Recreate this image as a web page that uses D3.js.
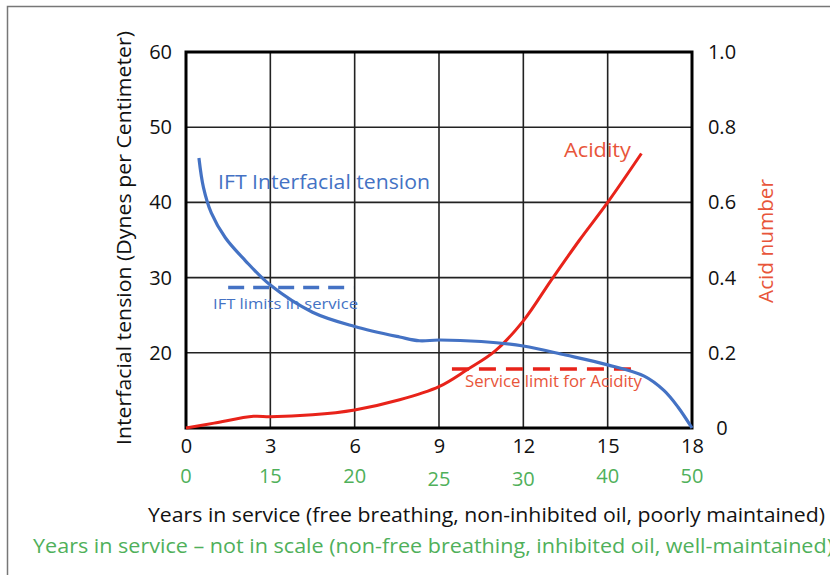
<!DOCTYPE html>
<html>
<head>
<meta charset="utf-8">
<script src="https://cdn.jsdelivr.net/npm/d3@7"></script>
<style>
  body { margin: 0; background: #fff; }
  svg { display: block; font-family: "Open Sans", "Noto Sans", sans-serif; }
</style>
</head>
<body>
<svg id="chart" width="830" height="575"></svg>
<script>
// data

var xTicks = [0, 3, 6, 9, 12, 15, 18];
var altYearLabels = ["0", "15", "20", "25", "30", "40", "50"];
var leftTicks = [20, 30, 40, 50, 60];
var rightTicks = [0, 0.2, 0.4, 0.6, 0.8, 1.0];
var rightTickLabels = ["0", "0.2", "0.4", "0.6", "0.8", "1.0"];

var iftYears  = [0.46, 0.62, 0.9, 1.4, 2.1, 3, 4.5, 6, 7.6, 8.3, 9, 10.5, 12, 13.5, 15, 16.3, 17.0, 17.5, 18];
var iftValues = [45.9, 42.0, 38.6, 35.3, 32.3, 29.0, 25.4, 23.5, 22.1, 21.6, 21.7, 21.5, 20.9, 19.7, 18.4, 16.9, 15.0, 12.8, 10];

var acidYears  = [0, 1, 2.4, 3, 4.5, 6, 7.6, 9, 10, 11, 12, 13, 14, 15, 16.2];
var acidValues = [0, 0.013, 0.031, 0.03, 0.035, 0.048, 0.075, 0.11, 0.155, 0.205, 0.285, 0.394, 0.5, 0.6, 0.73];

var iftLimit = 28.7, iftLimitYears = [1.5, 5.95];
var acidLimit = 0.157, acidLimitYears = [9.46, 16.08];

// colours

var blue = "#4472c4", red = "#e8231a", redText = "#e8553a", green = "#4fb05a";

var svg = d3.select("#chart");

// frame round the picture (only top and left show)

svg.append("rect")
  .attr("x", 7.5).attr("y", 6.5)
  .attr("width", 900).attr("height", 700)
  .attr("fill", "none").attr("stroke", "#777").attr("stroke-width", 1.5);

// scales

var x = d3.scaleLinear().domain([0, 18]).range([186, 692]);
var yLeft = d3.scaleLinear().domain([10, 60]).range([428, 52]);
var yRight = d3.scaleLinear().domain([0, 1]).range([428, 52]);

// grid

var grid = svg.append("g");
grid.selectAll(".vg").data(xTicks.slice(1, -1)).enter().append("line")
  .attr("x1", d => x(d)).attr("x2", d => x(d))
  .attr("y1", yLeft(60)).attr("y2", yLeft(10))
  .attr("stroke", "#222").attr("stroke-width", 1.6);
grid.selectAll(".hg").data(rightTicks.slice(1, -1)).enter().append("line")
  .attr("x1", x(0)).attr("x2", x(18))
  .attr("y1", d => yRight(d)).attr("y2", d => yRight(d))
  .attr("stroke", "#222").attr("stroke-width", 1.6);

// frame of the plot

svg.append("rect")
  .attr("x", x(0)).attr("y", yLeft(60))
  .attr("width", x(18) - x(0)).attr("height", yLeft(10) - yLeft(60))
  .attr("fill", "none").attr("stroke", "#000").attr("stroke-width", 3);

// dashed service limits

svg.append("line")
  .attr("x1", x(iftLimitYears[0])).attr("x2", x(iftLimitYears[1]))
  .attr("y1", yLeft(iftLimit)).attr("y2", yLeft(iftLimit))
  .attr("stroke", blue).attr("stroke-width", 3.5).attr("stroke-dasharray", "16,9");

svg.append("line")
  .attr("x1", x(acidLimitYears[0])).attr("x2", x(acidLimitYears[1]))
  .attr("y1", yRight(acidLimit)).attr("y2", yRight(acidLimit))
  .attr("stroke", red).attr("stroke-width", 3.5).attr("stroke-dasharray", "17,10");

// curves

var iftLine = d3.line()
  .x((d, i) => x(iftYears[i]))
  .y(d => yLeft(d))
  .curve(d3.curveCatmullRom.alpha(0.5));

var acidLine = d3.line()
  .x((d, i) => x(acidYears[i]))
  .y(d => yRight(d))
  .curve(d3.curveCatmullRom.alpha(0.5));

svg.append("path").attr("d", acidLine(acidValues))
  .attr("fill", "none").attr("stroke", red).attr("stroke-width", 3);

svg.append("path").attr("d", iftLine(iftValues))
  .attr("fill", "none").attr("stroke", blue).attr("stroke-width", 3.2);

// axes, drawn with d3 and stripped of their lines

var leftAxis = svg.append("g")
  .attr("transform", "translate(" + x(0) + ",0)")
  .call(d3.axisLeft(yLeft).tickValues(leftTicks).tickSize(0).tickPadding(14));

var rightAxis = svg.append("g")
  .attr("transform", "translate(" + x(18) + ",0)")
  .call(d3.axisRight(yRight).tickValues(rightTicks).tickSize(0).tickPadding(30)
    .tickFormat((d, i) => rightTickLabels[i]));

var bottomAxis = svg.append("g")
  .attr("transform", "translate(0," + yLeft(10) + ")")
  .call(d3.axisBottom(x).tickValues(xTicks).tickSize(0).tickPadding(11));

[leftAxis, rightAxis, bottomAxis].forEach(function (g) {
  g.select(".domain").remove();
  g.selectAll("text").attr("font-size", 20).attr("fill", "#111")
    .attr("font-family", "\"Open Sans\", sans-serif");
});
rightAxis.selectAll("text").attr("text-anchor", "middle");

// second row of year labels, not to scale

svg.append("g").selectAll("text").data(altYearLabels).enter().append("text")
  .attr("x", (d, i) => x(xTicks[i]))
  .attr("y", (d, i) => (i == 3 || i == 4) ? 486 : 483)
  .attr("text-anchor", "middle")
  .attr("font-size", 20).attr("fill", green)
  .text(d => d);

// axis titles

svg.append("text")
  .attr("transform", "translate(131,238) rotate(-90)")
  .attr("text-anchor", "middle").attr("font-size", 20).attr("fill", "#111")
  .attr("textLength", 414).attr("lengthAdjust", "spacingAndGlyphs")
  .text("Interfacial tension (Dynes per Centimeter)");

svg.append("text")
  .attr("transform", "translate(773,241) rotate(-90)")
  .attr("text-anchor", "middle").attr("font-size", 20).attr("fill", redText)
  .attr("textLength", 124).attr("lengthAdjust", "spacingAndGlyphs")
  .text("Acid number");

svg.append("text")
  .attr("x", 148).attr("y", 522)
  .attr("font-size", 20).attr("fill", "#111")
  .attr("textLength", 677).attr("lengthAdjust", "spacingAndGlyphs")
  .text("Years in service (free breathing, non-inhibited oil, poorly maintained)");

svg.append("text")
  .attr("x", 33).attr("y", 553)
  .attr("font-size", 20).attr("fill", green)
  .attr("textLength", 800).attr("lengthAdjust", "spacingAndGlyphs")
  .text("Years in service \u2013 not in scale (non-free breathing, inhibited oil, well-maintained)");

// labels on the plot

svg.append("text")
  .attr("x", 218).attr("y", 189)
  .attr("font-size", 20).attr("fill", blue)
  .attr("textLength", 212).attr("lengthAdjust", "spacingAndGlyphs")
  .text("IFT Interfacial tension");

svg.append("text")
  .attr("x", 564).attr("y", 157)
  .attr("font-size", 20).attr("fill", redText)
  .attr("textLength", 67).attr("lengthAdjust", "spacingAndGlyphs")
  .text("Acidity");

svg.append("text")
  .attr("x", 213).attr("y", 309)
  .attr("font-size", 15).attr("fill", blue)
  .attr("textLength", 145).attr("lengthAdjust", "spacingAndGlyphs")
  .text("IFT limits in service");

svg.append("text")
  .attr("x", 465).attr("y", 387)
  .attr("font-size", 16).attr("fill", redText)
  .attr("textLength", 177).attr("lengthAdjust", "spacingAndGlyphs")
  .text("Service limit for Acidity");
</script>
</body>
</html>
